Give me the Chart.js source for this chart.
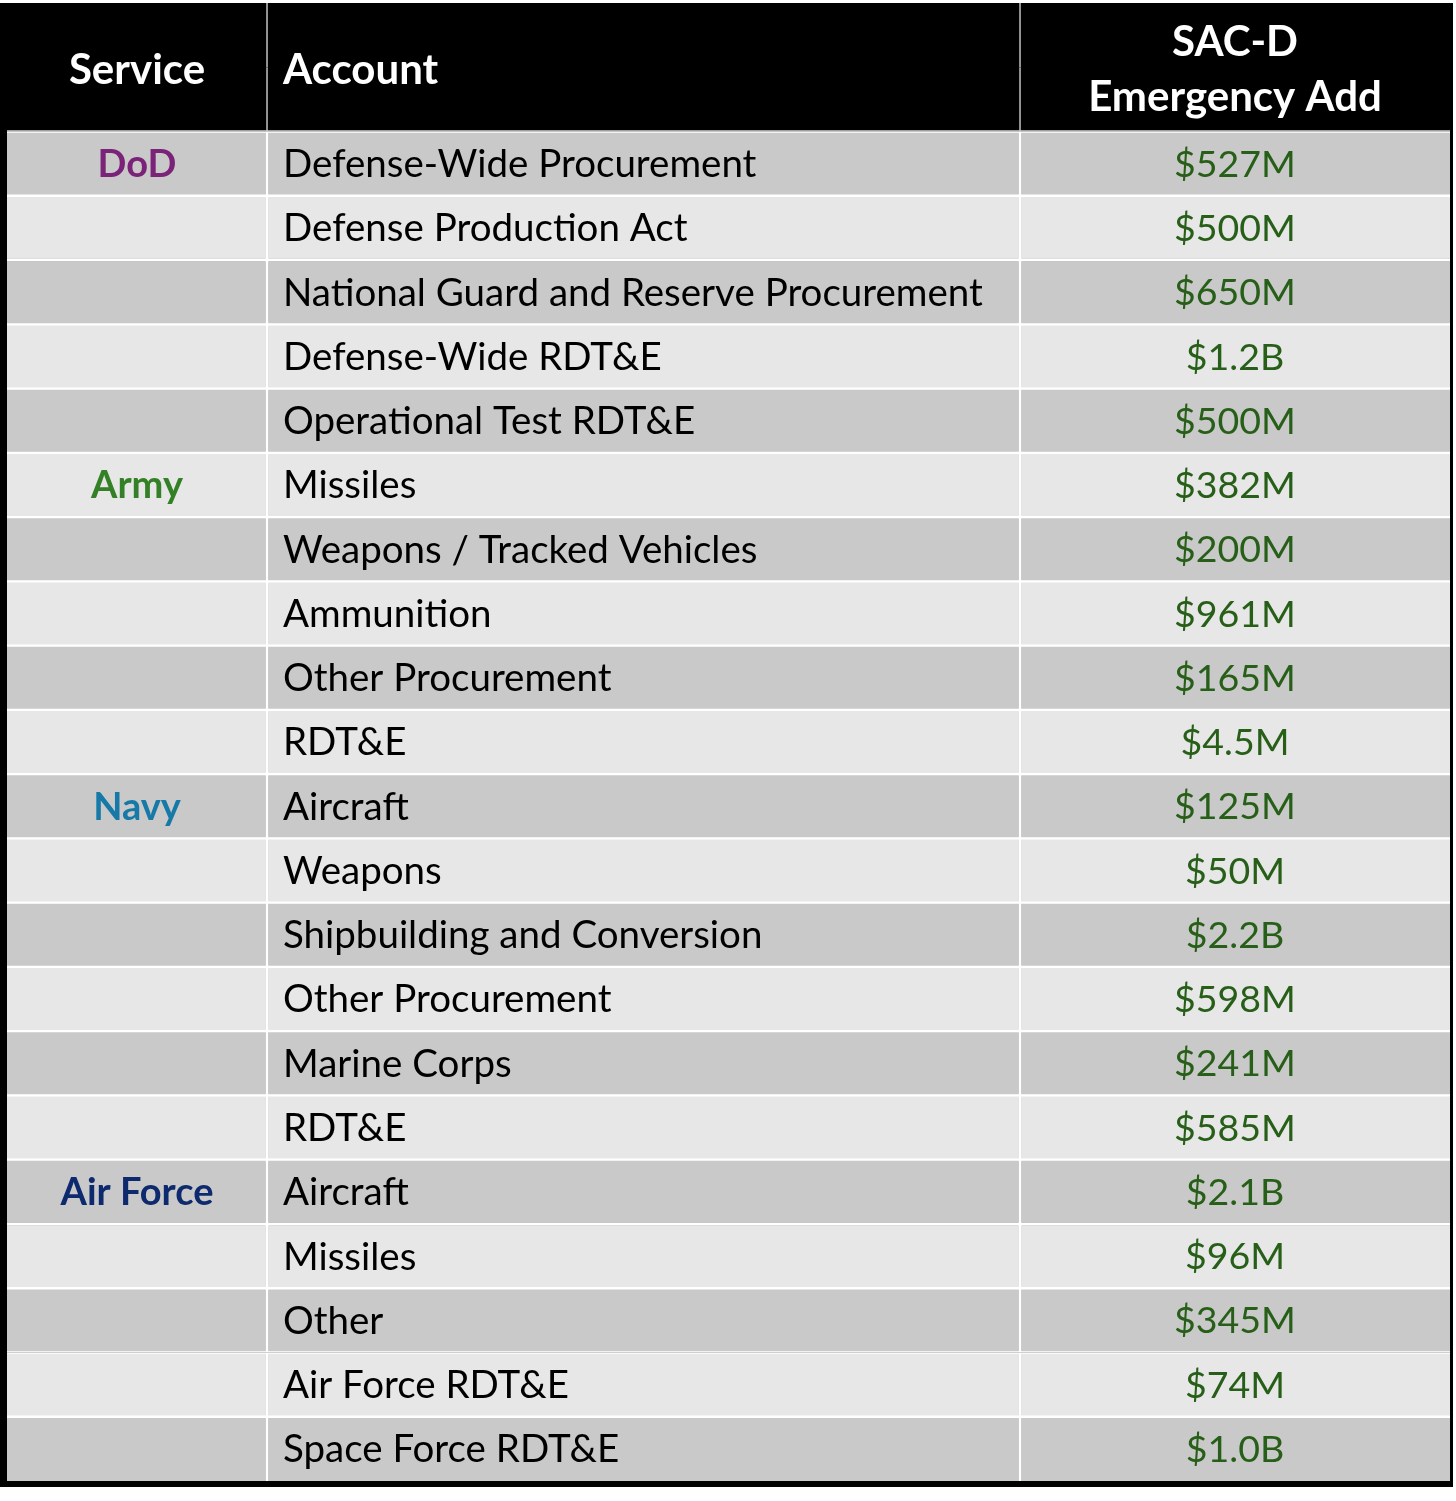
<!DOCTYPE html>
<html>
<head>
<meta charset="utf-8">
<title>SAC-D Emergency Add</title>
<script src="https://cdn.jsdelivr.net/npm/chart.js@4.4.1/dist/chart.umd.min.js"></script>
<style>
  html, body { margin: 0; padding: 0; background: #fff; }
  #wrap { position: relative; width: 1456px; height: 1501px; }
</style>
</head>
<body>
<div id="wrap"><canvas id="table"></canvas></div>
<script>
// --- table data ---
const columnHeaders = ["Service", "Account", ["SAC-D", "Emergency Add"]];

const services = [
    "DoD", "", "", "", "",
    "Army", "", "", "", "",
    "Navy", "", "", "", "", "",
    "Air Force", "", "", "", "",
];

const accounts = [
    "Defense-Wide Procurement",
    "Defense Production Act",
    "National Guard and Reserve Procurement",
    "Defense-Wide RDT&E",
    "Operational Test RDT&E",
    "Missiles",
    "Weapons / Tracked Vehicles",
    "Ammunition",
    "Other Procurement",
    "RDT&E",
    "Aircraft",
    "Weapons",
    "Shipbuilding and Conversion",
    "Other Procurement",
    "Marine Corps",
    "RDT&E",
    "Aircraft",
    "Missiles",
    "Other",
    "Air Force RDT&E",
    "Space Force RDT&E",
];

// emergency add, $ millions
const emergencyAdd = [
    527, 500, 650, 1200, 500,
    382, 200, 961, 165, 4.5,
    125, 50, 2200, 598, 241, 585,
    2100, 96, 345, 74, 1000,
];

const serviceColors = {
    "DoD": "#7b2378",
    "Army": "#338026",
    "Navy": "#1679a7",
    "Air Force": "#0e2a6e",
};

// --- layout ---
const colEdges = [0, 260, 1013, 1443];
const HEADER_ROWS = 2;
const ROW_DARK = "#c9c9c9";
const ROW_LIGHT = "#e7e7e7";
const VALUE_COLOR = "#275f18";
const FONT = "Lato, 'Open Sans', sans-serif";

const fmtMoney = (v) =>
    v >= 1000 ? "$" + (v / 1000).toFixed(1) + "B" : "$" + v + "M";

const rowKeys = [
    ...Array.from({ length: HEADER_ROWS }, (_, i) => "header-" + i),
    ...accounts.map((_, i) => "row-" + i),
];
const lastRow = rowKeys.length - 1;

const cellFill = (i) =>
    i < HEADER_ROWS ? "#000" : (i - HEADER_ROWS) % 2 === 0 ? ROW_DARK : ROW_LIGHT;

const cellBorder = (i, c) => {
    if (i < HEADER_ROWS) {
        return {
            left: c > 0 ? 1 : 0,
            right: c < colEdges.length - 2 ? 1 : 0,
            top: 0,
            bottom: i === HEADER_ROWS - 1 ? 1.5 : 0,
        };
    }
    return {
        left: c > 0 ? 1.5 : 0,
        right: c < colEdges.length - 2 ? 1.5 : 0,
        top: 1.5,
        bottom: i === lastRow ? 0 : 1.5,
    };
};

const datasets = columnHeaders.map((h, c) => ({
    label: [].concat(h).join(" "),
    data: rowKeys.map(() => [colEdges[c], colEdges[c + 1]]),
    backgroundColor: (ctx) => cellFill(ctx.dataIndex),
    borderColor: (ctx) => (ctx.dataIndex < HEADER_ROWS ? "#d4d4d4" : "#ffffff"),
    borderWidth: (ctx) => cellBorder(ctx.dataIndex, c),
    borderSkipped: false,
    grouped: false,
    categoryPercentage: 1,
    barPercentage: 1,
}));

// --- outer frame + page background ---
const framePlugin = {
    id: "frame",
    beforeDraw(chart) {
        const { ctx, chartArea: a } = chart;
        ctx.save();
        ctx.fillStyle = "#ffffff";
        ctx.fillRect(0, 0, chart.width, chart.height);
        ctx.fillStyle = "#000000";
        ctx.fillRect(0, a.top, a.right + 3, a.bottom - a.top + 6);
        ctx.restore();
    },
};

// --- cell text ---
const textPlugin = {
    id: "cellText",
    afterDatasetsDraw(chart) {
        const { ctx, scales: { x, y } } = chart;
        const px = colEdges.map((e) => x.getPixelForValue(e));
        const col0Mid = (px[0] + px[1]) / 2;
        const col1Left = px[1] + 16;
        const col2Mid = (px[2] + px[3]) / 2;

        ctx.save();
        ctx.textBaseline = "middle";

        // header
        const step = y.getPixelForValue(1) - y.getPixelForValue(0);
        const hTop = y.getPixelForValue(0) - step / 2;
        const hBot = y.getPixelForValue(HEADER_ROWS - 1) + step / 2;
        const hMid = (hTop + hBot) / 2 + 3;
        ctx.fillStyle = "#ffffff";
        ctx.font = "bold 42px " + FONT;
        ctx.textAlign = "center";
        ctx.fillText(columnHeaders[0], col0Mid, hMid);
        ctx.textAlign = "left";
        ctx.fillText(columnHeaders[1], col1Left, hMid);
        ctx.textAlign = "center";
        const lines = [].concat(columnHeaders[2]);
        const lh = 55;
        lines.forEach((ln, k) => {
            ctx.fillText(ln, col2Mid, hMid + (k - (lines.length - 1) / 2) * lh);
        });

        // body
        accounts.forEach((acc, i) => {
            const yc = y.getPixelForValue(i + HEADER_ROWS) + 1;
            if (services[i]) {
                ctx.font = "bold 38px " + FONT;
                ctx.fillStyle = serviceColors[services[i]];
                ctx.textAlign = "center";
                ctx.fillText(services[i], col0Mid, yc);
            }
            ctx.font = "38.5px " + FONT;
            ctx.fillStyle = "#000000";
            ctx.textAlign = "left";
            ctx.fillText(acc, col1Left, yc);
            ctx.font = "37.5px " + FONT;
            ctx.fillStyle = VALUE_COLOR;
            ctx.textAlign = "center";
            ctx.fillText(fmtMoney(emergencyAdd[i]), col2Mid, yc);
        });
        ctx.restore();
    },
};

new Chart(document.getElementById("table"), {
    type: "bar",
    data: { labels: rowKeys, datasets },
    options: {
        indexAxis: "y",
        responsive: true,
        maintainAspectRatio: false,
        animation: false,
        events: [],
        layout: { padding: { left: 7, right: 6, top: 3, bottom: 20 } },
        plugins: {
            legend: { display: false },
            tooltip: { enabled: false },
        },
        scales: {
            x: { type: "linear", min: colEdges[0], max: colEdges[colEdges.length - 1], display: false },
            y: { type: "category", display: false, offset: true },
        },
    },
    plugins: [framePlugin, textPlugin],
});
</script>
</body>
</html>
